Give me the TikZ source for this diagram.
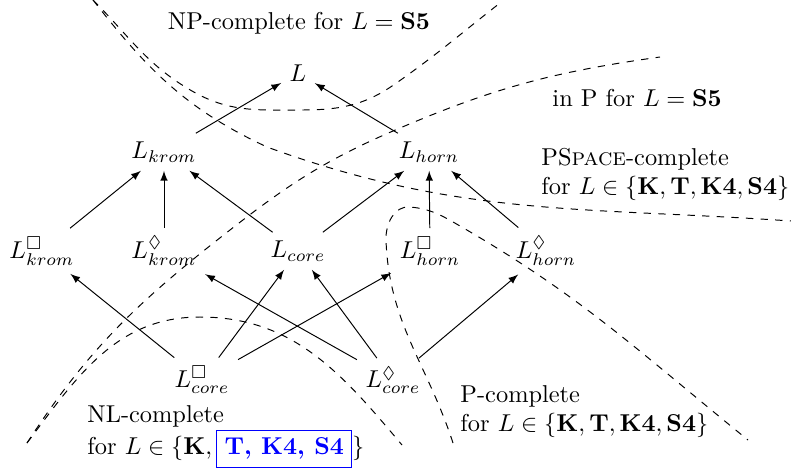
\documentclass[tikz,border=0pt]{standalone}
\usepackage{amssymb}
\tikzset{>=latex}
\colorlet{boxcol}{blue}
\tikzset{
  region/.style={dashed},
  note/.style={inner sep=0pt,align=left,anchor=north west},
}

\begin{document}
\begin{tikzpicture}[x=0.41pt,y=0.41pt]
  \useasboundingbox (0,0) rectangle (791,-472);

  % LANGUAGES
  \node (L)   at (298, -73) {$L$};
  \node (Lk)  at (164,-152) {$L_{krom}$};
  \node (Lh)  at (429,-152) {$L_{horn}$};
  \node (Lkb) at ( 42,-251) {$L^{\Box}_{krom}$};
  \node (Lkd) at (164,-251) {$L^{\Diamond}_{krom}$};
  \node (Lc)  at (298,-251) {$L_{core}$};
  \node (Lhb) at (430,-251) {$L^{\Box}_{horn}$};
  \node (Lhd) at (546,-251) {$L^{\Diamond}_{horn}$};
  \node (Lcb) at (202,-380) {$L^{\Box}_{core}$};
  \node (Lcd) at (393,-380) {$L^{\Diamond}_{core}$};

  % REDUCTIONS
  \draw[->] (Lk) -- (L);
  \draw[->] (Lh) -- (L);
  \foreach \a in {Lkb,Lkd,Lc} \draw[->] (\a) -- (Lk);
  \foreach \a in {Lc,Lhb,Lhd} \draw[->] (\a) -- (Lh);
  \foreach \b in {Lkb,Lc,Lhb} \draw[->] (Lcb) -- (\b);
  \foreach \b in {Lkd,Lc,Lhd} \draw[->] (Lcd) -- (\b);

  % REGIONS
  \draw[region] (93,0) to[out=-45,in=150] (192,-91)
                       to[out=-30,in=180] (300,-110)
                       to[out=0,in=-145] (395,-84)
                       to[out=35,in=-142] (500,-3);
  \draw[region] (93,0) to[out=-52,in=155] (267,-147)
                       to[out=-20,in=176] (791,-221);
  \draw[region] (27,-443) to[out=57,in=-142] (230,-230)
                          to[out=38,in=-157] (400,-128)
                          to[out=23,in=-172] (660,-57);
  \draw[region] (27,-443) to[out=53,in=180] (200,-317)
                          to[out=0,in=130] (402,-445);
  \draw[region] (453,-443) to[out=108,in=-88] (386,-240)
                           to[out=92,in=175] (410,-207)
                           to[out=-5,in=150] (460,-226)
                           to[out=-30,in=141] (748,-440);

  % LABELS
  \node[inner sep=0pt,anchor=base] (np) at (299,-29.5)
    {NP-complete for $L=\mathbf{S5}$};
  \node[inner sep=0pt,anchor=base west] (inp) at (552,-106)
    {in P for $L=\mathbf{S5}$};
  \node[note] (pspace) at (541,-148)
    {PS\textsc{pace}-complete\\
     for $L\in\{\mathbf{K},\mathbf{T},\mathbf{K4},\mathbf{S4}\}$};
  \node[note] (pc) at (460,-385)
    {P-complete\\
     for $L\in\{\mathbf{K},\mathbf{T},\mathbf{K4},\mathbf{S4}\}$};
  \node[note] (nl) at (87,-405)
    {NL-complete\\
     for $L\in\{\mathbf{K},\textcolor{boxcol}{\fbox{\textbf{T, K4, S4}}}\}$};

\end{tikzpicture}
\end{document}
